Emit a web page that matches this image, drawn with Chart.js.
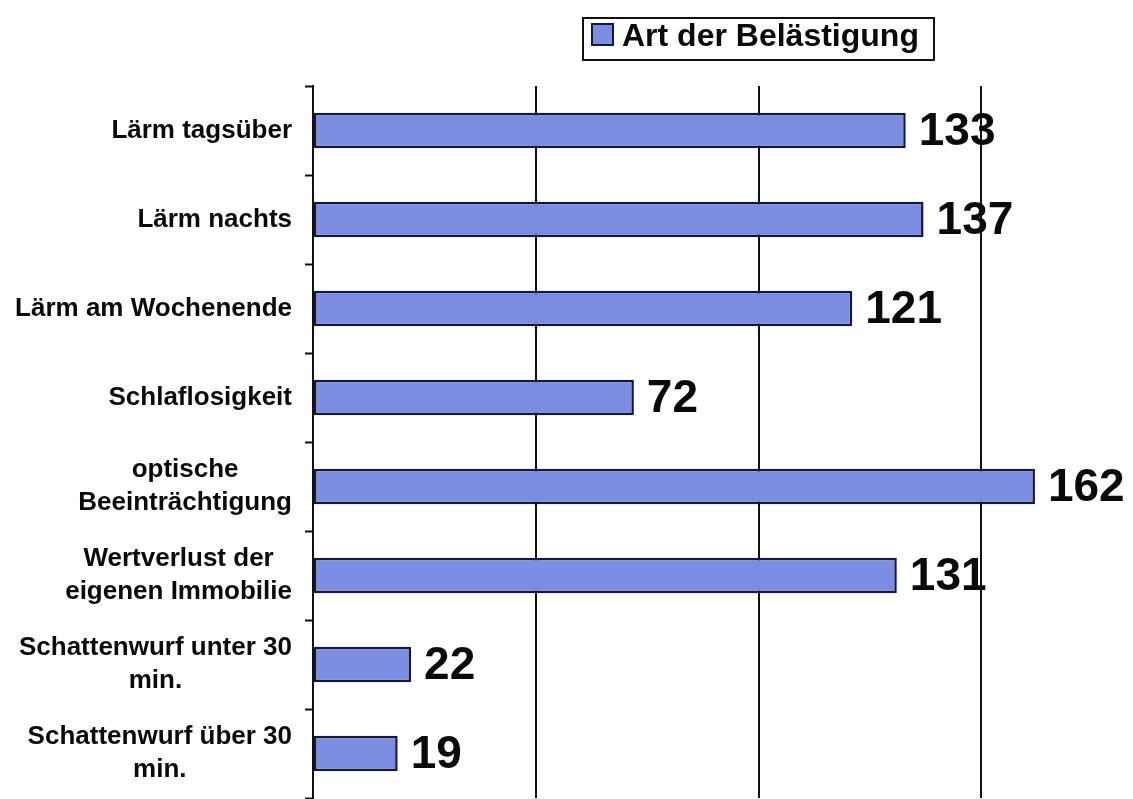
<!DOCTYPE html>
<html>
<head>
<meta charset="utf-8">
<script src="https://cdn.jsdelivr.net/npm/chart.js@4"></script>
<style>
  html, body { margin: 0; padding: 0; background: #fff; }
  #wrap { width: 1133px; height: 799px; }
</style>
</head>
<body>
<div id="wrap"><canvas id="belChart" width="1133" height="799"></canvas></div>
<script>
const categories = [
  'Lärm tagsüber',
  'Lärm nachts',
  'Lärm am Wochenende',
  'Schlaflosigkeit',
  ['optische', 'Beeinträchtigung'],
  ['Wertverlust der', 'eigenen Immobilie'],
  ['Schattenwurf unter 30', 'min.'],
  ['Schattenwurf über 30', 'min.']
];
const values = [133, 137, 121, 72, 162, 131, 22, 19];
const gridTicks = [0, 50, 100, 150];
const seriesName = 'Art der Belästigung';

const FONT = '"Liberation Sans", Arial, sans-serif';
const barFill = '#7a8de0';
const barEdge = '#15173a';

// category labels: block right-aligned, lines centred inside the block
const catLabels = {
  id: 'catLabels',
  afterDraw(chart) {
    const ctx = chart.ctx, y = chart.scales.y;
    ctx.save();
    ctx.font = 'bold 26px ' + FONT;
    ctx.fillStyle = '#0a0a0a';
    ctx.textBaseline = 'middle';
    ctx.textAlign = 'center';
    const right = 292, lh = 33;
    categories.forEach((lab, i) => {
      const lines = Array.isArray(lab) ? lab : [lab];
      const w = Math.max(...lines.map(l => ctx.measureText(l).width));
      const cx = right - w / 2;
      const cy = y.getPixelForTick(i);
      lines.forEach((l, k) => {
        ctx.fillText(l, cx, cy + (k - (lines.length - 1) / 2) * lh);
      });
    });
    ctx.restore();
  }
};

// big numbers right of the bars
const valueLabels = {
  id: 'valueLabels',
  afterDatasetsDraw(chart) {
    const ctx = chart.ctx;
    ctx.save();
    ctx.font = 'bold 46px ' + FONT;
    ctx.fillStyle = '#0a0a0a';
    ctx.textBaseline = 'middle';
    ctx.textAlign = 'left';
    chart.getDatasetMeta(0).data.forEach((bar, i) => {
      ctx.fillText(String(values[i]), bar.x + 13, bar.y + 2);
    });
    ctx.restore();
  }
};

// boxed legend top right
const boxLegend = {
  id: 'boxLegend',
  afterDraw(chart) {
    const ctx = chart.ctx;
    ctx.save();
    ctx.lineWidth = 2;
    ctx.strokeStyle = '#111';
    ctx.strokeRect(583, 18, 351, 42);
    ctx.fillStyle = barFill;
    ctx.fillRect(592, 24, 21, 21);
    ctx.strokeStyle = barEdge;
    ctx.strokeRect(592, 24, 21, 21);
    ctx.fillStyle = '#0a0a0a';
    ctx.font = 'bold 32px ' + FONT;
    ctx.textBaseline = 'middle';
    ctx.fillText(seriesName, 622, 37);
    ctx.restore();
  }
};

new Chart(document.getElementById('belChart'), {
  type: 'bar',
  data: {
    labels: categories,
    datasets: [{
      label: seriesName,
      data: values,
      backgroundColor: barFill,
      borderColor: barEdge,
      borderWidth: 2.5,
      borderSkipped: false,
      categoryPercentage: 1,
      barPercentage: 0.4
    }]
  },
  options: {
    indexAxis: 'y',
    responsive: false,
    animation: false,
    layout: { padding: { top: 86, right: 0, bottom: 1, left: 0 } },
    plugins: {
      legend: { display: false },
      tooltip: { enabled: false }
    },
    scales: {
      x: {
        min: 0,
        max: 184,
        afterBuildTicks: s => { s.ticks = gridTicks.map(v => ({ value: v })); },
        afterFit: s => { s.height = 0; },
        ticks: { display: false },
        border: { display: false },
        grid: {
          drawTicks: false,
          lineWidth: 2,
          color: c => (c.tick && c.tick.value === 0) ? 'rgba(0,0,0,0)' : '#111'
        }
      },
      y: {
        afterFit: s => { s.width = 313; },
        ticks: { display: false },
        border: { display: true, color: '#111', width: 2 },
        grid: {
          offset: true,
          drawOnChartArea: false,
          drawTicks: true,
          tickLength: 8,
          tickColor: '#111',
          tickWidth: 2
        }
      }
    }
  },
  plugins: [catLabels, valueLabels, boxLegend]
});
</script>
</body>
</html>
